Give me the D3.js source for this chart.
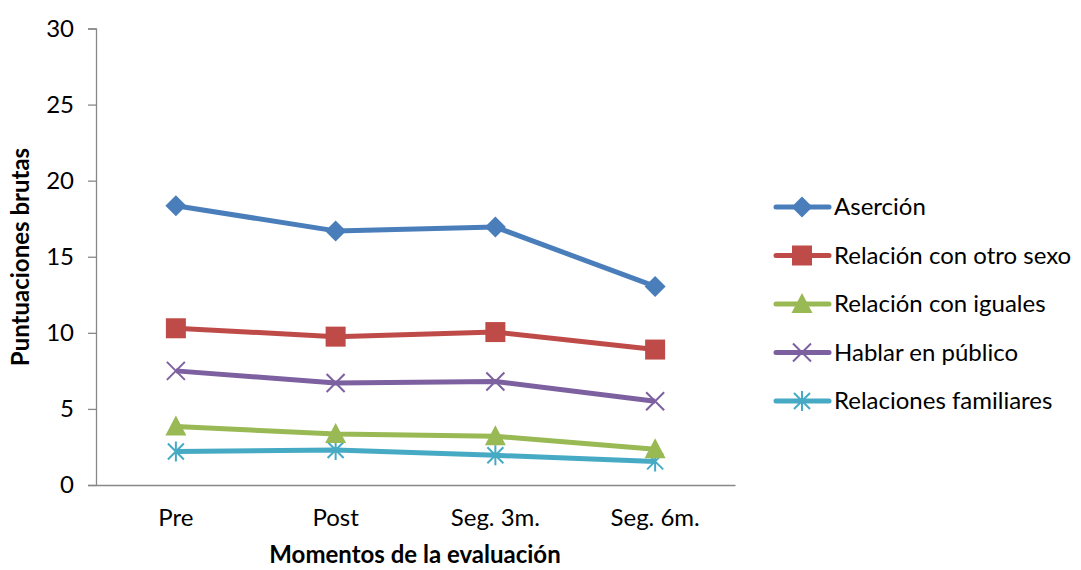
<!DOCTYPE html>
<html>
<head>
<meta charset="utf-8">
<script src="https://cdn.jsdelivr.net/npm/d3@7"></script>
<style>
  html, body { margin: 0; padding: 0; background: #fff; }
  svg { display: block; font-family: Lato, "Open Sans", sans-serif; }
</style>
</head>
<body>
<svg id="chart" width="1081" height="570"></svg>
<script>
// Evaluation moments
const categories = ["Pre", "Post", "Seg. 3m.", "Seg. 6m."];

// Raw scores per subscale
const asercion = [18.35, 16.7, 16.95, 13.05];
const otroSexo = [10.3, 9.75, 10.05, 8.9];
const iguales = [3.85, 3.35, 3.2, 2.35];
const hablarPublico = [7.5, 6.7, 6.8, 5.5];
const familiares = [2.2, 2.3, 1.95, 1.55];

const seriesNames = ["Aserción", "Relación con otro sexo", "Relación con iguales", "Hablar en público", "Relaciones familiares"];
const yTicks = [0, 5, 10, 15, 20, 25, 30];

const series = [
  { name: seriesNames[0], values: asercion, color: "#4A7EBB", marker: "diamond" },
  { name: seriesNames[1], values: otroSexo, color: "#BE4B48", marker: "square" },
  { name: seriesNames[2], values: iguales, color: "#98B954", marker: "triangle" },
  { name: seriesNames[3], values: hablarPublico, color: "#7D60A0", marker: "cross" },
  { name: seriesNames[4], values: familiares, color: "#46AAC5", marker: "star" }
];

const FS = 24;
const svg = d3.select("#chart");
const margin = { left: 96, right: 346, top: 28.5, bottom: 85 };
const W = 1081, H = 570;

const x = d3.scaleBand().domain(categories).range([margin.left, W - margin.right]);
const y = d3.scaleLinear().domain([0, 30]).range([H - margin.bottom, margin.top]);

// Y axis
const yAxis = svg.append("g")
  .attr("transform", `translate(${margin.left},0)`)
  .call(d3.axisLeft(y).tickValues(yTicks).tickSize(8).tickPadding(14));
yAxis.select(".domain").attr("stroke", "#888").attr("stroke-width", 1.3);
yAxis.selectAll(".tick line").attr("stroke", "#888").attr("stroke-width", 1.3);
yAxis.selectAll(".tick text").attr("font-size", FS).attr("fill", "#000")
  .attr("font-family", "Lato, 'Open Sans', sans-serif");

// X axis
const xAxis = svg.append("g")
  .attr("transform", `translate(0,${y(0)})`)
  .call(d3.axisBottom(x).tickSize(0).tickPadding(24));
xAxis.select(".domain").attr("stroke", "#888").attr("stroke-width", 1.3);
xAxis.selectAll(".tick text").attr("font-size", FS).attr("fill", "#000")
  .attr("font-family", "Lato, 'Open Sans', sans-serif");

// Axis titles
svg.append("text")
  .attr("x", 415).attr("y", 563)
  .attr("text-anchor", "middle")
  .attr("font-size", FS).attr("font-weight", "bold")
  .text("Momentos de la evaluación");

svg.append("text")
  .attr("transform", "translate(29,257) rotate(-90)")
  .attr("text-anchor", "middle")
  .attr("font-size", FS).attr("font-weight", "bold")
  .text("Puntuaciones brutas");

// Marker drawing
function drawMarker(g, type, color, cx, cy) {
  const m = g.append("g").attr("transform", `translate(${cx},${cy})`);
  if (type === "diamond") {
    m.append("path").attr("d", "M0,-10.5 L10.5,0 L0,10.5 L-10.5,0 Z").attr("fill", color);
  } else if (type === "square") {
    m.append("rect").attr("x", -10).attr("y", -10).attr("width", 20).attr("height", 20).attr("fill", color);
  } else if (type === "triangle") {
    m.append("path").attr("d", "M0,-11 L10.5,9 L-10.5,9 Z").attr("fill", color);
  } else if (type === "cross") {
    m.append("path").attr("d", "M-9,-9 L9,9 M-9,9 L9,-9").attr("stroke", color).attr("stroke-width", 2);
  } else if (type === "star") {
    m.append("path").attr("d", "M-8,-8 L8,8 M-8,8 L8,-8 M0,-10 L0,10").attr("stroke", color).attr("stroke-width", 2);
  }
}

const line = d3.line()
  .x((d, i) => x(categories[i]) + x.bandwidth() / 2)
  .y(d => y(d));

// Draw in reverse so the first series sits on top
series.slice().reverse().forEach(s => {
  const g = svg.append("g");
  g.append("path")
    .datum(s.values)
    .attr("d", line)
    .attr("fill", "none")
    .attr("stroke", s.color)
    .attr("stroke-width", 5)
    .attr("stroke-linejoin", "round");
  s.values.forEach((v, i) => {
    drawMarker(g, s.marker, s.color, x(categories[i]) + x.bandwidth() / 2, y(v));
  });
});

// Legend
const legend = svg.append("g");
series.forEach((s, i) => {
  const ly = 207 + i * 48.5;
  const g = legend.append("g");
  g.append("line")
    .attr("x1", 776).attr("x2", 829).attr("y1", ly).attr("y2", ly)
    .attr("stroke", s.color).attr("stroke-width", 5).attr("stroke-linecap", "round");
  drawMarker(g, s.marker, s.color, 802, ly);
  g.append("text")
    .attr("x", 834).attr("y", ly + 8)
    .attr("font-size", FS).attr("fill", "#000")
    .text(s.name);
});
</script>
</body>
</html>
